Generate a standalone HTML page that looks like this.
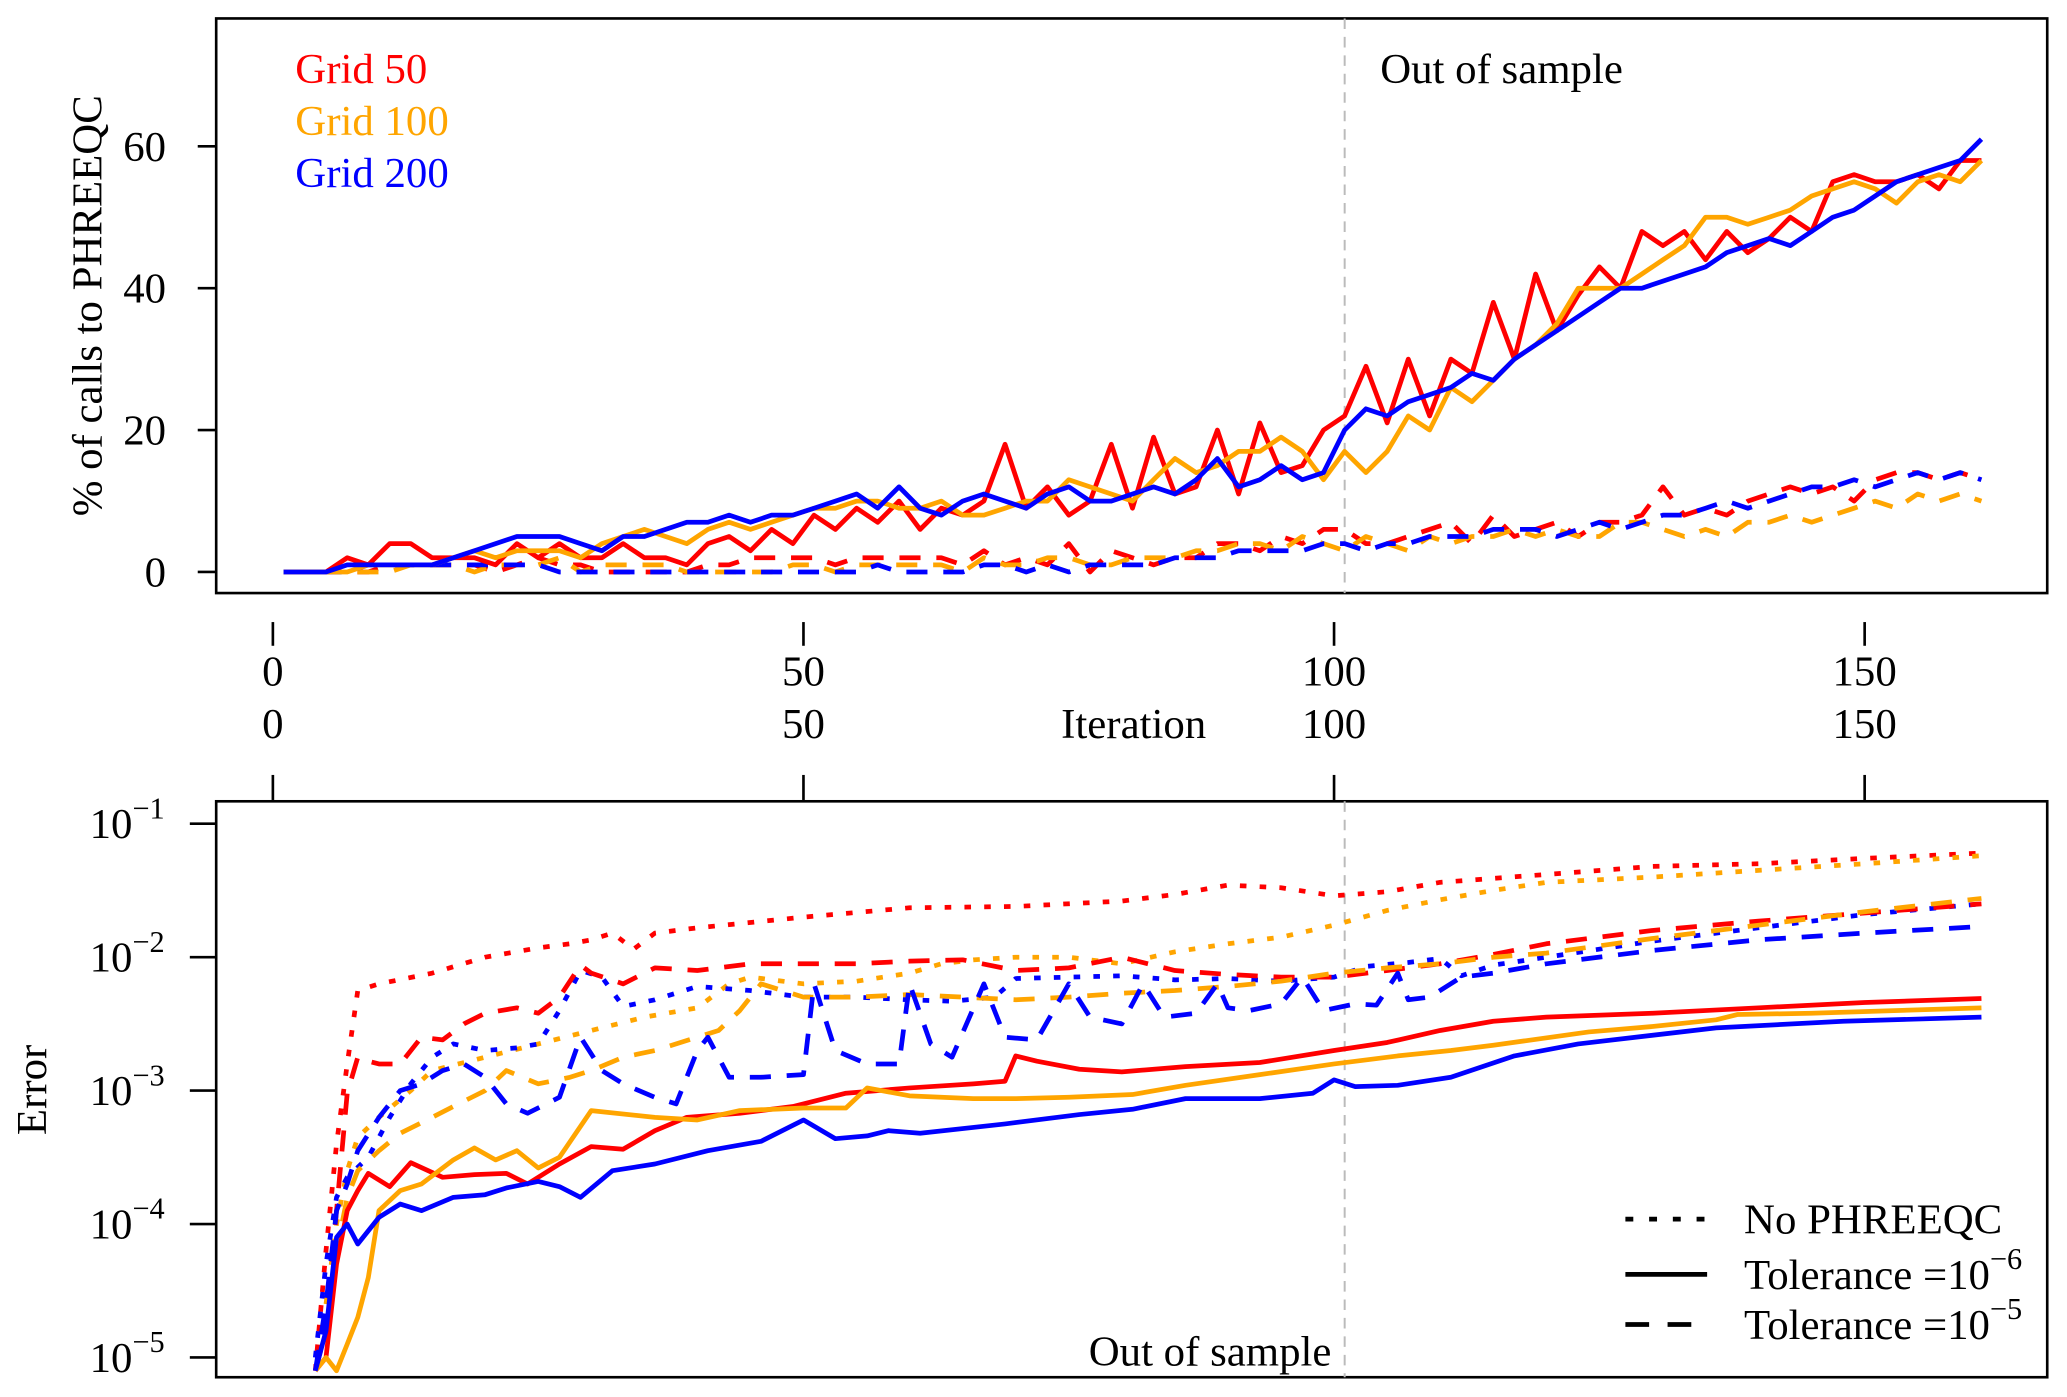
<!DOCTYPE html>
<html><head><meta charset="utf-8"><style>
html,body{margin:0;padding:0;background:#fff;}
svg{display:block;}
text{font-family:"Liberation Serif",serif;}
</style></head><body>
<svg id="chart" width="2067" height="1397" viewBox="0 0 1568 1060" preserveAspectRatio="none" xmlns="http://www.w3.org/2000/svg">
<defs>
<clipPath id="clipTop"><rect x="164" y="14" width="1389" height="436"/></clipPath>
<clipPath id="clipBot"><rect x="164" y="608" width="1389" height="437"/></clipPath>
</defs>
<rect width="1568" height="1060" fill="#fff"/>
<g id="gTop"></g>
<g id="gMid"></g>
<g id="gBot"></g>
</svg>
<script>
// ---------- Top panel data (iterations 1,3,5,...,161) ----------
const topIterStart = 1, topIterStep = 2;
const topRedSolid = [0,0,0,2,1,4,4,2,2,2,1,4,2,4,2,2,4,2,2,1,4,5,3,6,4,8,6,9,7,10,6,9,8,10,18,9,12,8,10,18,9,19,11,12,20,11,21,14,15,20,22,29,21,30,22,30,28,38,30,42,34,39,43,40,48,46,48,44,48,45,47,50,48,55,56,55,55,56,54,58,58];
const topOrangeSolid = [0,0,0,0,1,1,1,1,2,3,2,3,3,3,2,4,5,6,5,4,6,7,6,7,8,9,9,10,10,9,9,10,8,8,9,10,10,13,12,11,10,13,16,14,15,17,17,19,17,13,17,14,17,22,20,26,24,27,30,32,35,40,40,40,42,44,46,50,50,49,50,51,53,54,55,54,52,55,56,55,58];
const topBlueSolid = [0,0,0,1,1,1,1,1,2,3,4,5,5,5,4,3,5,5,6,7,7,8,7,8,8,9,10,11,9,12,9,8,10,11,10,9,11,12,10,10,11,12,11,13,16,12,13,15,13,14,20,23,22,24,25,26,28,27,30,32,34,36,38,40,40,41,42,43,45,46,47,46,48,50,51,53,55,56,57,58,61];
const topRedDashed = [0,0,0,0,0,1,1,1,1,1,0,1,2,1,1,0,0,0,0,0,1,1,2,2,2,2,1,2,2,2,2,2,1,3,1,2,1,4,0,3,2,1,2,2,4,4,3,5,4,6,6,4,4,5,6,7,4,8,5,6,7,5,7,7,8,12,8,9,8,10,11,12,11,12,10,13,14,14,13,14,13];
const topOrangeDashed = [0,0,0,0,0,0,1,1,1,0,1,1,1,2,0,1,1,1,1,0,0,0,0,0,1,1,0,1,1,1,1,1,0,2,1,1,2,2,1,1,2,2,2,3,3,4,4,3,5,4,3,5,4,3,5,4,5,5,6,5,6,5,5,7,7,6,5,6,5,7,7,8,7,8,9,10,9,11,10,11,10];
const topBlueDashed = [0,0,0,0,1,1,1,1,1,1,1,1,1,0,0,0,0,0,0,0,0,0,0,0,0,0,0,0,1,0,0,0,0,1,1,0,1,0,1,1,1,1,2,2,2,3,3,3,3,4,4,3,4,4,5,5,5,6,6,6,5,6,7,6,7,8,8,9,10,9,10,11,12,12,13,12,13,14,13,14,13];
const topYTicks = [0,20,40,60];
const xTicks = [0,50,100,150];
const legendGrids = ["Grid 50","Grid 100","Grid 200"];

// ---------- Bottom panel data (log10 of error) ----------
const redDotIt = [4,5,6,7,8,10,15,20,25,28,30,32,34,36,40,50,60,70,80,85,90,95,100,105,110,120,130,140,150,161];
const redDotLog = [-5.1,-4.2,-3.4,-2.8,-2.25,-2.2,-2.12,-2.0,-1.93,-1.9,-1.87,-1.82,-1.94,-1.82,-1.78,-1.7,-1.63,-1.62,-1.58,-1.53,-1.46,-1.48,-1.54,-1.51,-1.44,-1.38,-1.32,-1.3,-1.26,-1.22];
const orangeDotIt = [5,6,7,8,10,13,15,20,25,30,35,40,43,45,50,55,60,63,66,70,75,80,85,90,95,100,105,110,115,120,130,140,150,161];
const orangeDotLog = [-4.6,-4.0,-3.6,-3.35,-3.2,-3.0,-2.85,-2.75,-2.65,-2.55,-2.45,-2.38,-2.2,-2.15,-2.2,-2.18,-2.12,-2.05,-2.02,-2.0,-2.0,-2.05,-1.96,-1.9,-1.85,-1.76,-1.65,-1.57,-1.5,-1.44,-1.4,-1.35,-1.3,-1.24];
const blueDotIt = [4,5,6,7,9,11,13,15,17,20,23,25,27,29,31,33,36,40,45,50,55,60,64,68,70,75,80,85,90,95,100,103,107,110,112,115,120,130,140,150,161];
const blueDotLog = [-5.0,-4.3,-3.8,-3.65,-3.5,-3.2,-2.95,-2.75,-2.65,-2.7,-2.68,-2.65,-2.4,-2.1,-2.15,-2.37,-2.32,-2.22,-2.25,-2.3,-2.3,-2.32,-2.33,-2.3,-2.16,-2.15,-2.14,-2.17,-2.16,-2.18,-2.15,-2.07,-2.04,-2.01,-2.14,-2.06,-2.0,-1.88,-1.78,-1.68,-1.6];
const redDashIt = [4,5,6,7,8,9,10,12,14,16,18,20,23,25,27,29,30,33,36,40,45,50,55,60,65,70,75,80,85,90,95,100,105,110,115,120,130,140,150,161];
const redDashLog = [-5.1,-4.8,-3.9,-3.02,-2.75,-2.78,-2.8,-2.8,-2.6,-2.62,-2.5,-2.42,-2.38,-2.42,-2.3,-2.06,-2.12,-2.2,-2.08,-2.1,-2.05,-2.05,-2.05,-2.03,-2.02,-2.1,-2.08,-2.0,-2.1,-2.13,-2.15,-2.15,-2.1,-2.05,-1.98,-1.9,-1.8,-1.73,-1.67,-1.6];
const orangeDashIt = [5,6,7,8,10,12,15,17,20,22,25,28,30,33,36,40,42,44,46,50,55,60,65,70,75,80,85,90,95,100,105,110,115,120,130,140,150,161];
const orangeDashLog = [-4.8,-4.2,-3.8,-3.6,-3.45,-3.32,-3.2,-3.12,-3.0,-2.85,-2.95,-2.9,-2.85,-2.75,-2.7,-2.6,-2.55,-2.4,-2.2,-2.3,-2.3,-2.28,-2.3,-2.32,-2.3,-2.27,-2.25,-2.22,-2.18,-2.12,-2.08,-2.05,-2.0,-1.97,-1.86,-1.76,-1.66,-1.56];
const blueDashIt = [4,5,6,7,8,10,12,14,16,18,20,22,24,27,29,31,33,36,38,40,41,43,46,50,51,53,56,59,60,62,64,67,69,72,75,77,80,82,84,87,89,90,92,95,97,99,102,104,106,107,109,112,115,120,130,140,150,161];
const blueDashLog = [-5.1,-4.6,-3.9,-3.7,-3.45,-3.2,-3.0,-2.95,-2.85,-2.8,-2.9,-3.1,-3.17,-3.05,-2.6,-2.85,-2.95,-3.05,-3.1,-2.7,-2.6,-2.9,-2.9,-2.88,-2.2,-2.7,-2.8,-2.8,-2.2,-2.65,-2.75,-2.2,-2.6,-2.62,-2.2,-2.45,-2.5,-2.2,-2.45,-2.42,-2.2,-2.38,-2.4,-2.35,-2.15,-2.4,-2.35,-2.36,-2.12,-2.32,-2.3,-2.15,-2.12,-2.05,-1.95,-1.87,-1.82,-1.77];
const redSolidIt = [4,5,6,7,8,9,11,13,16,19,22,24,27,30,33,36,39,44,49,54,60,66,69,70,72,76,80,86,93,100,105,110,115,120,130,140,150,161];
const redSolidLog = [-5.1,-5.0,-4.3,-3.9,-3.75,-3.62,-3.72,-3.54,-3.65,-3.63,-3.62,-3.7,-3.55,-3.42,-3.44,-3.3,-3.2,-3.17,-3.12,-3.02,-2.98,-2.95,-2.93,-2.74,-2.78,-2.84,-2.86,-2.82,-2.79,-2.7,-2.64,-2.55,-2.48,-2.45,-2.42,-2.38,-2.34,-2.31];
const orangeSolidIt = [4,5,6,7,8,9,10,12,14,17,19,21,23,25,27,30,36,40,44,50,54,56,60,66,70,75,81,86,93,100,106,111,115,124,130,136,138,145,161];
const orangeSolidLog = [-5.1,-5.0,-5.1,-4.9,-4.7,-4.4,-3.9,-3.75,-3.7,-3.52,-3.43,-3.52,-3.45,-3.58,-3.5,-3.15,-3.2,-3.22,-3.15,-3.13,-3.13,-2.98,-3.04,-3.06,-3.06,-3.05,-3.03,-2.96,-2.88,-2.8,-2.74,-2.7,-2.66,-2.56,-2.52,-2.47,-2.43,-2.42,-2.38];
const blueSolidIt = [4,5,6,7,8,10,12,14,17,20,22,25,27,29,32,36,41,46,50,53,56,58,61,69,76,81,86,93,98,100,102,106,111,117,123,136,148,161];
const blueSolidLog = [-5.1,-4.8,-4.1,-4.0,-4.15,-3.95,-3.85,-3.9,-3.8,-3.78,-3.73,-3.68,-3.72,-3.8,-3.6,-3.55,-3.45,-3.38,-3.22,-3.36,-3.34,-3.3,-3.32,-3.25,-3.18,-3.14,-3.06,-3.06,-3.02,-2.92,-2.97,-2.96,-2.9,-2.74,-2.65,-2.53,-2.48,-2.45];
const botYTicks = [-1,-2,-3,-4,-5];
const outOfSampleIter = 101;

// ---------- axis functions ----------
const NS = "http://www.w3.org/2000/svg";
function xScale(it){ return 207 + (it/50)*402.5; }
function yTop(v){ return 434 - v*(323/60); }
function yBot(l){ return 625 + (-1 - l)*101.25; }
const RED="#ff0000", ORANGE="#ffa500", BLUE="#0000ff";
const DASH="16 12", DOT="5 10";
const FS = 32.5;

function mk(parent, tag, attrs){
  const e = document.createElementNS(NS, tag);
  for (const k in attrs) e.setAttribute(k, attrs[k]);
  parent.appendChild(e); return e;
}
function txt(parent, x, y, s, size, anchor, fill){
  const t = mk(parent, "text", {x:x, y:y, "font-size":size, "text-anchor":anchor||"start", fill:fill||"#000"});
  t.textContent = s; return t;
}

const gTop = document.getElementById("gTop");
const gMid = document.getElementById("gMid");
const gBot = document.getElementById("gBot");

let fr = mk(gTop, "rect", {x:164, y:14, width:1389, height:436, fill:"none", stroke:"#000", "stroke-width":2});


let vl = mk(gTop, "line", {x1:xScale(outOfSampleIter), x2:xScale(outOfSampleIter), y1:14, y2:450, stroke:"#bbb", "stroke-width":1.5, "stroke-dasharray":"8 6"});



topYTicks.forEach(v=>{
  const y = yTop(v);
  const l = mk(gTop, "line", {x1:150, x2:164, y1:y, y2:y, stroke:"#000", "stroke-width":2});
  
  
  const t = txt(gTop, 126, y+11, String(v), FS, "end");
  
  
});
let yl = txt(gTop, 0, 0, "% of calls to PHREEQC", FS, "middle");
yl.setAttribute("transform", "translate(77,232) rotate(-90)");



function drawLine(parent, its, vals, yf, color, dash, clip, name){
  const n = Math.min(its.length, vals.length);
  let d = "";
  for (let i=0;i<n;i++){ d += (i?"L":"M") + xScale(its[i]).toFixed(1) + "," + yf(vals[i]).toFixed(1); }
  const p = mk(parent, "path", {d:d, fill:"none", stroke:color, "stroke-width":3.6, "stroke-linejoin":"round", "clip-path":"url(#"+clip+")"});
  if (dash) p.setAttribute("stroke-dasharray", dash);
  
  
}
function topIts(arr){ return arr.map((_,i)=>topIterStart + i*topIterStep); }

drawLine(gTop, topIts(topRedDashed), topRedDashed, yTop, RED, DASH, "clipTop", "grid50-tol5-calls-line");
drawLine(gTop, topIts(topOrangeDashed), topOrangeDashed, yTop, ORANGE, DASH, "clipTop", "grid100-tol5-calls-line");
drawLine(gTop, topIts(topBlueDashed), topBlueDashed, yTop, BLUE, DASH, "clipTop", "grid200-tol5-calls-line");
drawLine(gTop, topIts(topRedSolid), topRedSolid, yTop, RED, null, "clipTop", "grid50-tol6-calls-line");
drawLine(gTop, topIts(topOrangeSolid), topOrangeSolid, yTop, ORANGE, null, "clipTop", "grid100-tol6-calls-line");
drawLine(gTop, topIts(topBlueSolid), topBlueSolid, yTop, BLUE, null, "clipTop", "grid200-tol6-calls-line");

const gridColors = [RED, ORANGE, BLUE];
legendGrids.forEach((s,i)=>{
  const t = txt(gTop, 224, 63 + i*39.5, s, FS, "start", gridColors[i]);
  
  
});
let oos = txt(gTop, 1047, 63, "Out of sample", FS, "start");



xTicks.forEach(v=>{
  const x = xScale(v);
  const a = mk(gMid, "line", {x1:x, x2:x, y1:472, y2:490, stroke:"#000", "stroke-width":2});
  
  
  const b = mk(gMid, "line", {x1:x, x2:x, y1:588, y2:607, stroke:"#000", "stroke-width":2});
  
  
  const t1 = txt(gMid, x, 520, String(v), FS, "middle");
  
  
  const t2 = txt(gMid, x, 560, String(v), FS, "middle");
  
  
});
let xt = txt(gMid, 860, 560, "Iteration", FS, "middle");



let fr2 = mk(gBot, "rect", {x:164, y:608, width:1389, height:437, fill:"none", stroke:"#000", "stroke-width":2});


let vl2 = mk(gBot, "line", {x1:xScale(outOfSampleIter), x2:xScale(outOfSampleIter), y1:608, y2:1045, stroke:"#bbb", "stroke-width":1.5, "stroke-dasharray":"8 6"});


botYTicks.forEach(v=>{
  const y = yBot(v);
  const l = mk(gBot, "line", {x1:144, x2:164, y1:y, y2:y, stroke:"#000", "stroke-width":2});
  
  
  const t = mk(gBot, "text", {x:68, y:y+11, "font-size":FS});
  
  
  t.appendChild(document.createTextNode("10"));
  const s = mk(t, "tspan", {dy:-15, "font-size":23});
  s.textContent = "\u2212" + Math.abs(v);
});
let yl2 = txt(gBot, 0, 0, "Error", FS, "middle");
yl2.setAttribute("transform", "translate(35,827) rotate(-90)");



drawLine(gBot, redDotIt, redDotLog, yBot, RED, DOT, "clipBot", "grid50-no-phreeqc-error-line");
drawLine(gBot, orangeDotIt, orangeDotLog, yBot, ORANGE, DOT, "clipBot", "grid100-no-phreeqc-error-line");
drawLine(gBot, blueDotIt, blueDotLog, yBot, BLUE, DOT, "clipBot", "grid200-no-phreeqc-error-line");
drawLine(gBot, redDashIt, redDashLog, yBot, RED, DASH, "clipBot", "grid50-tol5-error-line");
drawLine(gBot, orangeDashIt, orangeDashLog, yBot, ORANGE, DASH, "clipBot", "grid100-tol5-error-line");
drawLine(gBot, blueDashIt, blueDashLog, yBot, BLUE, DASH, "clipBot", "grid200-tol5-error-line");
drawLine(gBot, redSolidIt, redSolidLog, yBot, RED, null, "clipBot", "grid50-tol6-error-line");
drawLine(gBot, orangeSolidIt, orangeSolidLog, yBot, ORANGE, null, "clipBot", "grid100-tol6-error-line");
drawLine(gBot, blueSolidIt, blueSolidLog, yBot, BLUE, null, "clipBot", "grid200-tol6-error-line");

let oos2 = txt(gBot, 1010, 1036, "Out of sample", FS, "end");



const legStyles = [DOT, null, DASH];
const legYs = [925, 967, 1005];
const legLabels = ["No PHREEQC", "Tolerance =10", "Tolerance =10"];
const legSup = [null, "\u22126", "\u22125"];
legYs.forEach((y,i)=>{
  const l = mk(gBot, "line", {x1:1233, x2:1295, y1:y, y2:y, stroke:"#000", "stroke-width":3.6});
  if (legStyles[i]) l.setAttribute("stroke-dasharray", i===0 ? "6 12" : "18 14");
  
  
  const t = mk(gBot, "text", {x:1323, y:y+11, "font-size":FS});
  
  
  t.appendChild(document.createTextNode(legLabels[i]));
  if (legSup[i]){ const s = mk(t, "tspan", {dy:-15, "font-size":23}); s.textContent = legSup[i]; }
});
</script>
</body></html>
